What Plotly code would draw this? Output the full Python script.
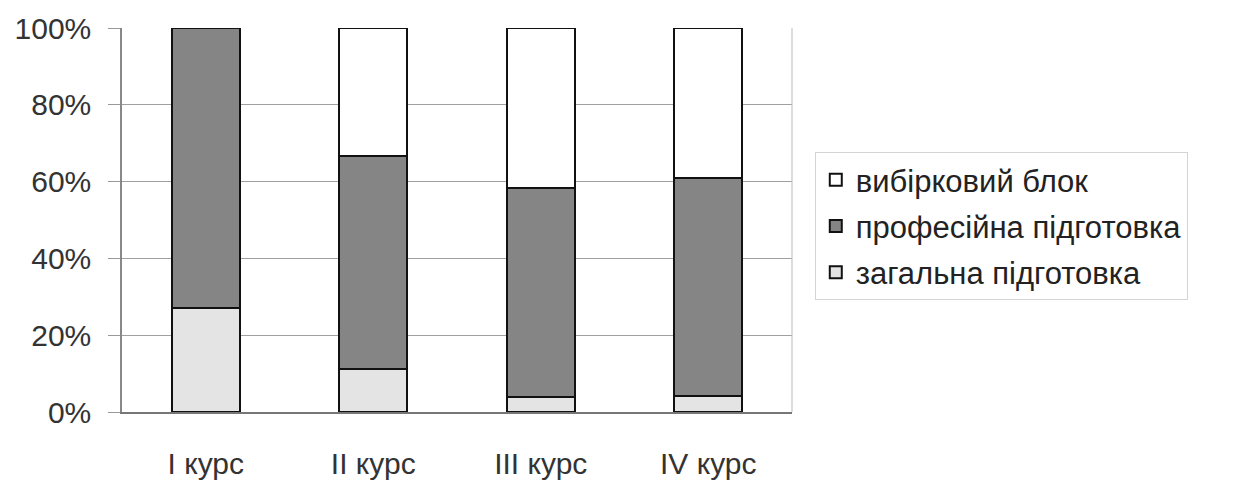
import plotly.graph_objects as go

categories = ["I курс", "II курс", "III курс", "IV курс"]
general = [0.27, 0.112, 0.04, 0.042]
professional = [0.73, 0.555, 0.544, 0.567]
elective = [0.0, 0.333, 0.416, 0.391]

series_names = ["загальна підготовка", "професійна підготовка", "вибірковий блок"]
series_values = [general, professional, elective]
series_colors = ["#e4e4e4", "#858585", "#ffffff"]
legend_ranks = [3, 2, 1]

fig = go.Figure()
for name, vals, col, rank in zip(series_names, series_values, series_colors, legend_ranks):
    fig.add_trace(go.Bar(
        x=categories, y=vals, name=name, legendgroup=name, legendrank=rank,
        marker=dict(color=col, line=dict(color="#111111", width=2)),
        width=0.405,
    ))

family = "Liberation Sans, Arial, sans-serif"

fig.update_layout(
    barmode="stack",
    width=1232, height=474,
    margin=dict(l=114, r=448, t=20, b=70),
    paper_bgcolor="white", plot_bgcolor="white",
    font=dict(family=family, size=30, color="#333333"),
    showlegend=True,
    legend=dict(
        x=1.034, y=0.677, xanchor="left", yanchor="top",
        traceorder="grouped",
        bordercolor="#d4d4d4", borderwidth=1,
        font=dict(family=family, size=31, color="#222222"),
        itemwidth=30, tracegroupgap=3,
    ),
    xaxis=dict(
        showline=True, linecolor="#777777", linewidth=1.5,
        ticks="", ticklabelstandoff=24, automargin=False,
    ),
    yaxis=dict(
        range=[0, 1], tickformat=".0%", dtick=0.2,
        showgrid=True, gridcolor="#a0a0a0", gridwidth=1,
        showline=True, linecolor="#888888", linewidth=1.5,
        ticks="outside", ticklen=12, tickcolor="#999999",
        ticklabelstandoff=11, zeroline=False, automargin=False,
    ),
)

# right border of plot area
fig.add_shape(type="line", xref="paper", yref="paper", x0=1, x1=1, y0=0, y1=1,
              line=dict(color="#bbbbbb", width=1))

fig.write_html("out.html")
